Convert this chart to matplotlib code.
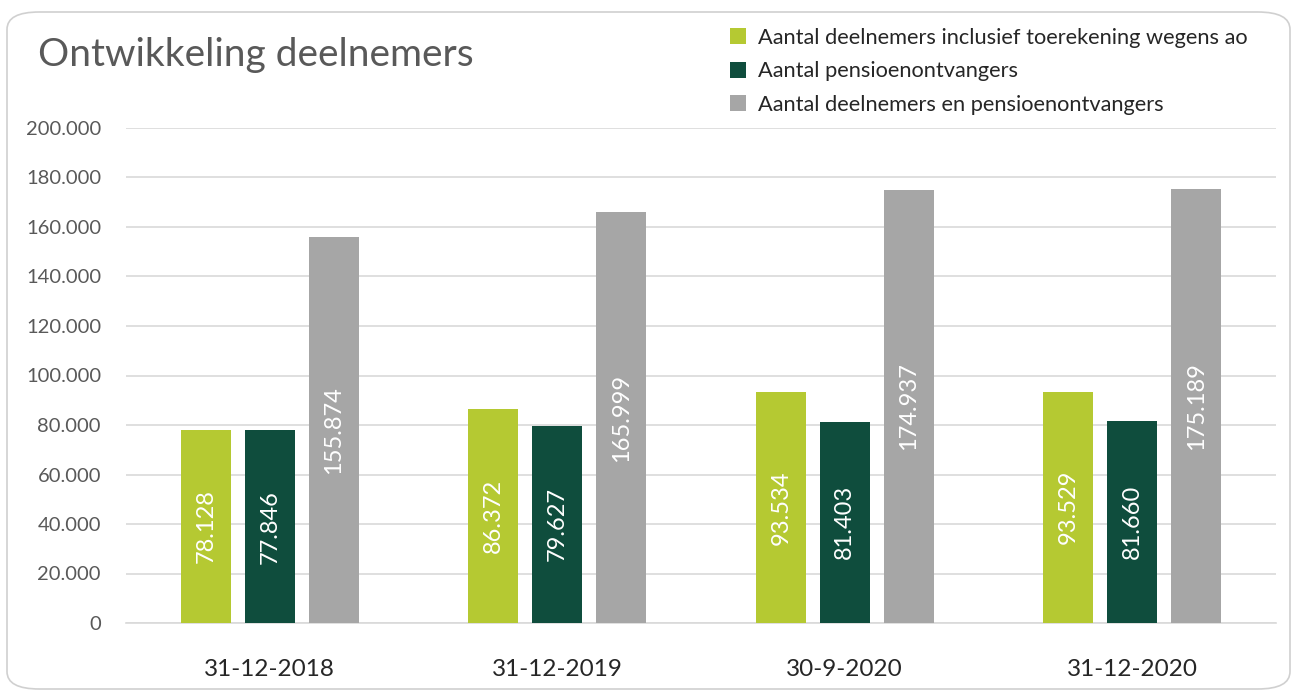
import numpy as np
import matplotlib
matplotlib.use('Agg')
import matplotlib.pyplot as plt
from matplotlib.patches import FancyBboxPatch
from matplotlib.ticker import FuncFormatter

plt.rcParams['font.family'] = ['Lato', 'DejaVu Sans']

# data
categories = ['31-12-2018', '31-12-2019', '30-9-2020', '31-12-2020']
deelnemers = [78128, 86372, 93534, 93529]
pensioen = [77846, 79627, 81403, 81660]
totaal = [155874, 165999, 174937, 175189]
series_names = ['Aantal deelnemers inclusief toerekening wegens ao',
                'Aantal pensioenontvangers',
                'Aantal deelnemers en pensioenontvangers']
colors = ['#B5C932', '#0F4D3D', '#A6A6A6']


def nl(v):
    return f'{int(round(v)):,}'.replace(',', '.')


W, H = 1294, 695
fig = plt.figure(figsize=(W / 100, H / 100), dpi=100)

# rounded frame
frame = FancyBboxPatch((7 / W, 6 / H), 1283 / W, 677 / H,
                       boxstyle='round,pad=0,rounding_size=0.025',
                       transform=fig.transFigure, facecolor='white',
                       edgecolor='#D0D0D0', linewidth=1.2, zorder=-1)
fig.patches.append(frame)

ax = fig.add_axes([126 / W, (H - 623) / H, 1150 / W, 495 / H])
ax.set_facecolor('none')

x = np.arange(len(categories))
step = 0.2226
width = 0.174
for i, (vals, c, name) in enumerate(zip([deelnemers, pensioen, totaal], colors, series_names)):
    bars = ax.bar(x + (i - 1) * step, vals, width=width, color=c, label=name, zorder=3)
    ax.bar_label(bars, labels=[nl(v) for v in vals], label_type='center',
                 rotation=90, color='white', fontsize=17, zorder=4)

ax.set_xlim(-0.5, len(categories) - 0.5)
ax.set_ylim(0, 200000)
ax.set_yticks(np.arange(0, 200001, 20000))
ax.yaxis.set_major_formatter(FuncFormatter(lambda v, p: nl(v)))
ax.set_xticks(x)
ax.set_xticklabels(categories)
ax.grid(axis='y', color='#D9D9D9', linewidth=1.2, zorder=0)
for s in ['top', 'right', 'left']:
    ax.spines[s].set_visible(False)
ax.spines['bottom'].set_color('#D9D9D9')
ax.spines['bottom'].set_linewidth(1.2)
ax.tick_params(axis='both', length=0)
ax.tick_params(axis='y', labelsize=14.5, labelcolor='#595959', pad=18)
ax.tick_params(axis='x', labelsize=17.5, labelcolor='#262626', pad=26)

fig.text(38 / W, 1 - 55 / H, 'Ontwikkeling deelnemers', fontsize=28,
         color='#595959', va='center', ha='left')

leg = fig.legend(loc='upper left', bbox_to_anchor=(710 / W, 1 - 8 / H),
                 frameon=True, facecolor='white', edgecolor='none', framealpha=1,
                 fontsize=15.7, handlelength=0.75, handleheight=0.75,
                 handletextpad=0.55, labelspacing=0.62, borderpad=0.4,
                 labelcolor='#262626', fancybox=False)

fig.savefig('out.png', dpi=100)
